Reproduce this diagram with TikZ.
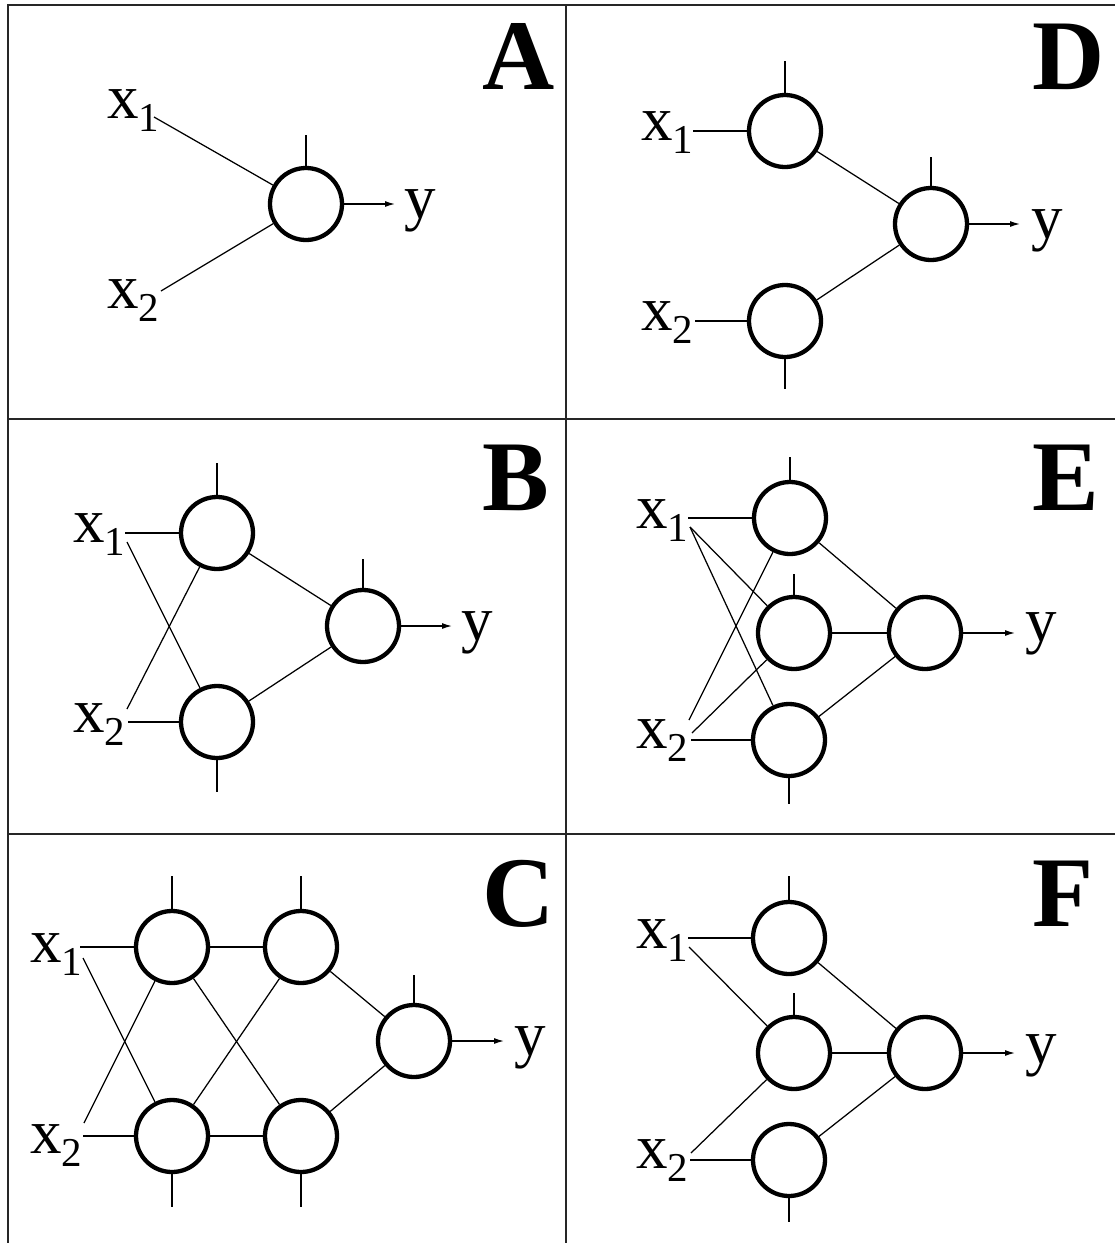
\documentclass[tikz,border=0pt]{standalone}
\usepackage{fontspec}
\setmainfont{Liberation Serif}
\usetikzlibrary{arrows.meta}
\newcommand\xlab[1]{x\raisebox{-13pt}{\fontsize{41}{41}\selectfont #1}}
\begin{document}
\begin{tikzpicture}[x=1pt,y=-1pt,
  neuron/.style={circle,draw,line width=4.3pt,minimum size=72pt,inner sep=0pt},
  wire/.style={line width=1.25pt},
  frameline/.style={line width=2pt,draw=black!85},
  inlab/.style={anchor=base west,inner sep=0pt,font=\fontsize{63}{63}\selectfont},
  outlab/.style={anchor=base west,inner sep=0pt,font=\fontsize{63}{63}\selectfont},
  plabel/.style={anchor=base west,inner sep=0pt,font=\fontsize{100}{100}\selectfont\bfseries},
  outarrow/.style={wire,-{Latex[length=10pt,width=6pt]}}]
\useasboundingbox (0,0) rectangle (1115,1243);
% frame
\draw[frameline] (8,1243) -- (8,5) -- (1115,5);
\draw[frameline] (566,5) -- (566,1243);
\draw[frameline] (8,419) -- (1115,419);
\draw[frameline] (8,834) -- (1115,834);

% ---------- Panel A ----------
\node[plabel] (pA) at (482,89) {A};
\node[neuron] (a) at (306,204) {};
\draw[wire] (a.north) -- ++(0,-31);
\node[inlab] (ax1) at (107,118) {\xlab{1}};
\node[inlab] (ax2) at (107,308) {\xlab{2}};
\coordinate (ax1s) at (154,117);
\coordinate (ax2s) at (161,291);
\draw[wire] (ax1s) -- (a);
\draw[wire] (ax2s) -- (a);
\coordinate (ay) at (395,204);
\draw[outarrow] (a.east) -- (ay);
\node[outlab] (ayl) at (404,218) {y};

% ---------- Panel D ----------
\node[plabel] (pD) at (1032,89) {D};
\node[neuron] (d1) at (785,131) {};
\node[neuron] (d2) at (785,321) {};
\node[neuron] (d3) at (931,224) {};
\draw[wire] (d1.north) -- ++(0,-32);
\draw[wire] (d2.south) -- ++(0,30);
\draw[wire] (d3.north) -- ++(0,-29);
\node[inlab] (dx1) at (641,140) {\xlab{1}};
\node[inlab] (dx2) at (641,330) {\xlab{2}};
\coordinate (dx1s) at (693,131);
\coordinate (dx2s) at (695,321);
\draw[wire] (dx1s) -- (d1);
\draw[wire] (dx2s) -- (d2);
\draw[wire] (d1) -- (d3);
\draw[wire] (d2) -- (d3);
\coordinate (dy) at (1020,224);
\draw[outarrow] (d3.east) -- (dy);
\node[outlab] (dyl) at (1031,238) {y};

% ---------- Panel B ----------
\node[plabel] (pB) at (482,510) {B};
\node[neuron] (b1) at (217,533) {};
\node[neuron] (b2) at (217,722) {};
\node[neuron] (b3) at (363,626) {};
\draw[wire] (b1.north) -- ++(0,-32);
\draw[wire] (b2.south) -- ++(0,32);
\draw[wire] (b3.north) -- ++(0,-29);
\node[inlab] (bx1) at (73,542) {\xlab{1}};
\node[inlab] (bx2) at (73,732) {\xlab{2}};
\coordinate (bx1h) at (125,533);
\coordinate (bx1d) at (127,542);
\coordinate (bx2d) at (127,709);
\coordinate (bx2h) at (128,722);
\draw[wire] (bx1h) -- (b1);
\draw[wire] (bx1d) -- (b2);
\draw[wire] (bx2d) -- (b1);
\draw[wire] (bx2h) -- (b2);
\draw[wire] (b1) -- (b3);
\draw[wire] (b2) -- (b3);
\coordinate (by) at (452,626);
\draw[outarrow] (b3.east) -- (by);
\node[outlab] (byl) at (461,640) {y};

% ---------- Panel E ----------
\node[plabel] (pE) at (1032,510) {E};
\node[neuron] (e1) at (790,518) {};
\node[neuron] (e2) at (794,633) {};
\node[neuron] (e3) at (789,740) {};
\node[neuron] (e4) at (925,633) {};
\draw[wire] (e1.north) -- ++(0,-23);
\draw[wire] (e2.north) -- ++(0,-21);
\draw[wire] (e3.south) -- ++(0,26);
\node[inlab] (ex1) at (636,528) {\xlab{1}};
\node[inlab] (ex2) at (636,748) {\xlab{2}};
\coordinate (ex1h) at (688,518);
\coordinate (ex1d) at (690,527);
\coordinate (ex2a) at (689,720);
\coordinate (ex2b) at (692,733);
\coordinate (ex2h) at (691,740);
\draw[wire] (ex1h) -- (e1);
\draw[wire] (ex1d) -- (e2);
\draw[wire] (ex1d) -- (e3);
\draw[wire] (ex2a) -- (e1);
\draw[wire] (ex2b) -- (e2);
\draw[wire] (ex2h) -- (e3);
\draw[wire] (e1) -- (e4);
\draw[wire] (e2) -- (e4);
\draw[wire] (e3) -- (e4);
\coordinate (ey) at (1015,633);
\draw[outarrow] (e4.east) -- (ey);
\node[outlab] (eyl) at (1025,641) {y};

% ---------- Panel C ----------
\node[plabel] (pC) at (482,926) {C};
\node[neuron] (c1) at (172,947) {};
\node[neuron] (c2) at (301,947) {};
\node[neuron] (c3) at (172,1136) {};
\node[neuron] (c4) at (301,1136) {};
\node[neuron] (c5) at (414,1041) {};
\draw[wire] (c1.north) -- ++(0,-33);
\draw[wire] (c2.north) -- ++(0,-33);
\draw[wire] (c3.south) -- ++(0,33);
\draw[wire] (c4.south) -- ++(0,33);
\draw[wire] (c5.north) -- ++(0,-28);
\node[inlab] (cx1) at (30,962) {\xlab{1}};
\node[inlab] (cx2) at (30,1153) {\xlab{2}};
\coordinate (cx1h) at (80,947);
\coordinate (cx1d) at (83,958);
\coordinate (cx2d) at (84,1123);
\coordinate (cx2h) at (83,1136);
\draw[wire] (cx1h) -- (c1);
\draw[wire] (cx1d) -- (c3);
\draw[wire] (cx2d) -- (c1);
\draw[wire] (cx2h) -- (c3);
\draw[wire] (c1) -- (c2);
\draw[wire] (c3) -- (c4);
\draw[wire] (c1) -- (c4);
\draw[wire] (c3) -- (c2);
\draw[wire] (c2) -- (c5);
\draw[wire] (c4) -- (c5);
\coordinate (cy) at (504,1041);
\draw[outarrow] (c5.east) -- (cy);
\node[outlab] (cyl) at (514,1055) {y};

% ---------- Panel F ----------
\node[plabel] (pF) at (1032,926) {F};
\node[neuron] (f1) at (789,938) {};
\node[neuron] (f2) at (794,1053) {};
\node[neuron] (f3) at (789,1160) {};
\node[neuron] (f4) at (925,1053) {};
\draw[wire] (f1.north) -- ++(0,-24);
\draw[wire] (f2.north) -- ++(0,-22);
\draw[wire] (f3.south) -- ++(0,24);
\node[inlab] (fx1) at (636,948) {\xlab{1}};
\node[inlab] (fx2) at (636,1168) {\xlab{2}};
\coordinate (fx1h) at (688,938);
\coordinate (fx1d) at (689,947);
\coordinate (fx2d) at (691,1153);
\coordinate (fx2h) at (690,1160);
\draw[wire] (fx1h) -- (f1);
\draw[wire] (fx1d) -- (f2);
\draw[wire] (fx2d) -- (f2);
\draw[wire] (fx2h) -- (f3);
\draw[wire] (f1) -- (f4);
\draw[wire] (f2) -- (f4);
\draw[wire] (f3) -- (f4);
\coordinate (fy) at (1015,1053);
\draw[outarrow] (f4.east) -- (fy);
\node[outlab] (fyl) at (1025,1063) {y};
\end{tikzpicture}
\end{document}
